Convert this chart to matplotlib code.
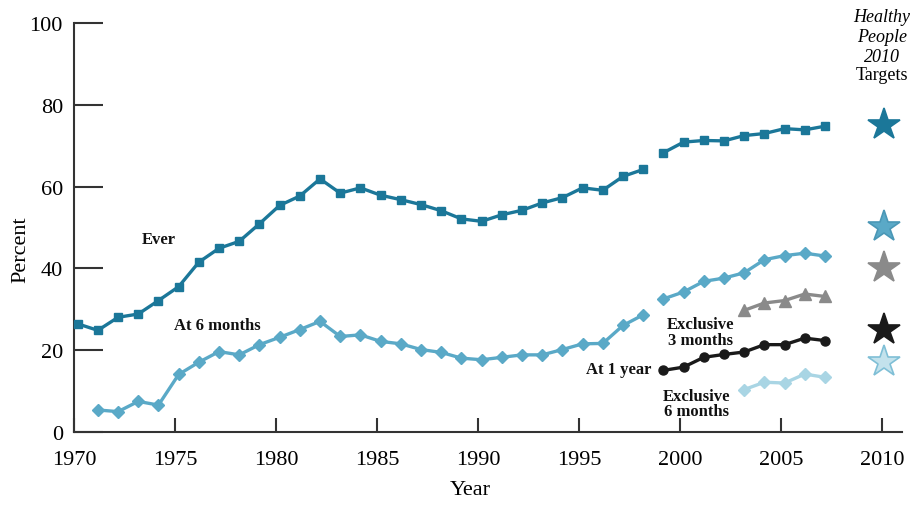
import matplotlib
matplotlib.use("Agg")
import matplotlib.pyplot as plt

# Breastfeeding rates, percent
ever_years_a = list(range(1970, 1999))
ever_a = [26.4, 24.8, 28.0, 28.8, 32.1, 35.5, 41.5, 44.9, 46.6, 50.9,
          55.4, 57.7, 61.9, 58.4, 59.7, 57.9, 56.8, 55.6, 54.1, 52.1,
          51.5, 53.1, 54.2, 56.0, 57.3, 59.7, 59.1, 62.5, 64.2]
ever_years_b = list(range(1999, 2008))
ever_b = [68.3, 70.9, 71.3, 71.2, 72.5, 73.0, 74.2, 73.9, 74.8]

m6_years_a = list(range(1971, 1999))
m6_a = [5.3, 4.9, 7.4, 6.5, 14.0, 17.0, 19.6, 18.8, 21.3, 23.1,
        25.0, 27.0, 23.3, 23.7, 22.1, 21.5, 20.1, 19.4, 18.0, 17.6,
        18.2, 18.8, 18.8, 20.1, 21.5, 21.6, 26.0, 28.6]
m6_years_b = list(range(1999, 2008))
m6_b = [32.5, 34.2, 36.8, 37.6, 38.9, 42.1, 43.1, 43.7, 43.0]

y1_years = list(range(1999, 2008))
y1 = [15.0, 15.8, 18.2, 18.9, 19.5, 21.3, 21.3, 22.9, 22.3]

excl_years = list(range(2003, 2008))
excl3 = [29.7, 31.5, 32.1, 33.7, 33.1]
excl6 = [10.3, 12.1, 11.9, 14.1, 13.3]

target_year = 2010
targets = {"ever": 75, "m6": 50, "excl3": 40, "y1": 25, "excl6": 17}

C_EVER = "#1b7799"
C_M6 = "#5aa9c7"
C_EX6 = "#a9d5e4"
C_GRAY = "#8a8a8a"
C_BLACK = "#1a1a1a"

OFF = 0.18  # points sit just right of the year tick

plt.rcParams["font.family"] = ["Liberation Serif", "DejaVu Serif"]

fig = plt.figure(figsize=(9.14, 5.06), dpi=100)
ax = fig.add_axes([0.081, 0.145, 0.906, 0.807])


def shift(years):
    return [y + OFF for y in years]


for yrs, vals in [(ever_years_a, ever_a), (ever_years_b, ever_b)]:
    ax.plot(shift(yrs), vals, color=C_EVER, lw=2.4, marker="s", ms=5.5,
            mec=C_EVER, clip_on=False, zorder=3)
for yrs, vals in [(m6_years_a, m6_a), (m6_years_b, m6_b)]:
    ax.plot(shift(yrs), vals, color=C_M6, lw=2.4, marker="D", ms=6,
            mec=C_M6, clip_on=False, zorder=3)
ax.plot(shift(y1_years), y1, color=C_BLACK, lw=2.4, marker="o", ms=6.5,
        zorder=3)
ax.plot(shift(excl_years), excl3, color=C_GRAY, lw=2.4, marker="^", ms=9,
        zorder=3)
ax.plot(shift(excl_years), excl6, color=C_EX6, lw=2.4, marker="D", ms=6,
        mec=C_EX6, zorder=3)

# Healthy People 2010 targets
star_style = [("ever", C_EVER, C_EVER), ("m6", C_M6, "#4a97b6"),
              ("excl3", C_GRAY, C_GRAY), ("y1", C_BLACK, C_BLACK),
              ("excl6", "#c3e2ec", "#7fbfd6")]
for key, fc, ec in star_style:
    ax.plot([target_year + 0.1], [targets[key]], marker="*", ms=24,
            mfc=fc, mec=ec, mew=1.2, ls="none", clip_on=False, zorder=4)

ax.set_xlim(1970, 2011)
ax.set_ylim(0, 100)
ax.set_xticks(range(1970, 2011, 5))
ax.set_yticks(range(0, 101, 20))
ax.tick_params(axis="x", direction="in", length=10, width=1.5,
               labelsize=16, pad=13, color="#333333")
ax.tick_params(axis="y", direction="in", length=21, width=1.5,
               labelsize=16, pad=8, color="#333333")
for s in ["top", "right"]:
    ax.spines[s].set_visible(False)
for s in ["left", "bottom"]:
    ax.spines[s].set_linewidth(1.5)
    ax.spines[s].set_color("#333333")

ax.set_xlabel("Year", fontsize=16)
ax.set_ylabel("Percent", fontsize=16)
ax.xaxis.set_label_coords(0.478, -0.118)
ax.yaxis.set_label_coords(-0.053, 0.448)

lab = dict(fontsize=12, fontweight="bold", color="#111111")
ax.text(1974.2, 47.2, "Ever", ha="center", va="center", **lab)
ax.text(1977.1, 26.1, "At 6 months", ha="center", va="center", **lab)
ax.text(2001.0, 24.4, "Exclusive\n3 months", ha="center", va="center",
        linespacing=0.95, **lab)
ax.text(1998.6, 15.4, "At 1 year", ha="right", va="center", **lab)
ax.text(2000.8, 6.9, "Exclusive\n6 months", ha="center", va="center",
        linespacing=0.95, **lab)

# header above the target stars (figure pixel rows from the top)
hx = ax.transData.transform((2010.0, 0))[0] / fig.bbox.width
for txt, row, st in [("Healthy", 17, "italic"), ("People", 37, "italic"),
                     ("2010", 57, "italic"), ("Targets", 75, "normal")]:
    fig.text(hx, 1 - row / 506, txt, ha="center", va="center",
             fontsize=13, style=st)

fig.savefig("out.png", dpi=100)
